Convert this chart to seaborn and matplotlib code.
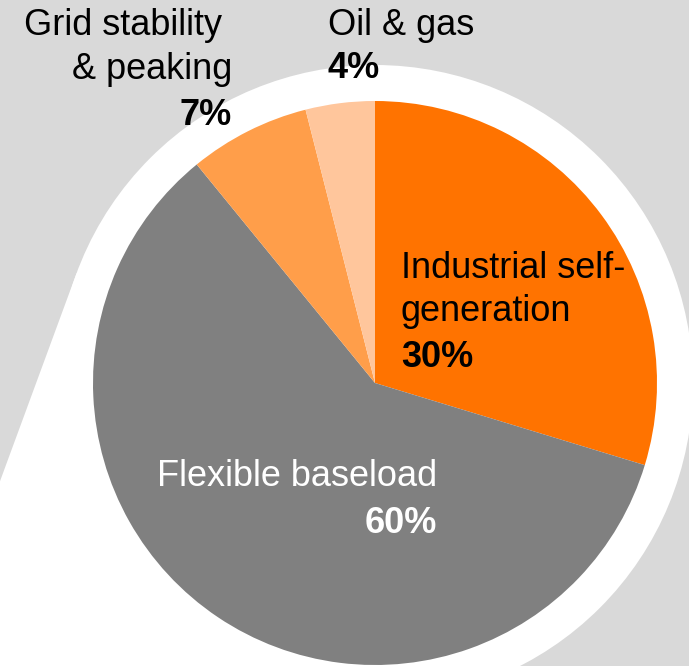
import matplotlib
matplotlib.use("Agg")
import matplotlib.pyplot as plt
import numpy as np
import seaborn as sns
from matplotlib.patches import Circle, Polygon

# ---- data ----
categories = ["Industrial self-generation", "Flexible baseload",
              "Grid stability & peaking", "Oil & gas"]
values = [30, 60, 7, 4]
pct_labels = ["30%", "60%", "7%", "4%"]
colors = ["#FF7300", "#808080", "#FF9E4A", "#FFC69C"]

sns.set_theme(style="white")
plt.rcParams["font.family"] = ["Liberation Sans", "DejaVu Sans"]

W, H = 689, 666
BG = "#D9D9D9"
fig = plt.figure(figsize=(W / 100, H / 100), dpi=100, facecolor=BG)
ax = fig.add_axes([0, 0, 1, 1])
ax.set_facecolor(BG)

def Y(y):
    return H - y

cx, cy, r = 375, Y(383), 282
R_out = 318

# white callout shape behind the pie: circle plus a tangent tail to lower left
ax.add_patch(Circle((cx, cy), R_out, facecolor="white", edgecolor="none", zorder=0))
tail_dir = np.array([-0.368, -1.0])          # going down-left (in up-positive coords)
tail_dir /= np.linalg.norm(tail_dir)
normal = np.array([-tail_dir[1], tail_dir[0]])  # pointing away from centre side
if normal[0] > 0:
    normal = -normal
T = np.array([cx, cy]) + R_out * normal
far = T + 1200 * tail_dir
ax.add_patch(Polygon([tuple(T), (cx, cy), (cx + 60, -300), tuple(far)],
                     closed=True, facecolor="white", edgecolor="none", zorder=0))

ax.pie(values, colors=colors, startangle=90, counterclock=False,
       center=(cx, cy), radius=r, frame=True,
       wedgeprops=dict(linewidth=0, edgecolor="none"))

ax.set_xlim(0, W)
ax.set_ylim(0, H)
ax.set_aspect("equal")
ax.axis("off")

fs = 26
# Grid stability & peaking
ax.text(222, Y(35), "Grid stability", ha="right", va="baseline", fontsize=fs, color="black")
ax.text(232, Y(79), "& peaking", ha="right", va="baseline", fontsize=fs, color="black")
ax.text(232, Y(125), pct_labels[2], ha="right", va="baseline", fontsize=fs,
        fontweight="bold", color="black")
# Oil & gas
ax.text(328, Y(35), categories[3], ha="left", va="baseline", fontsize=fs, color="black")
ax.text(328, Y(78), pct_labels[3], ha="left", va="baseline", fontsize=fs,
        fontweight="bold", color="black")
# Industrial self-generation
ax.text(401, Y(278), "Industrial self-", ha="left", va="baseline", fontsize=fs, color="black")
ax.text(401, Y(321), "generation", ha="left", va="baseline", fontsize=fs, color="black")
ax.text(401, Y(367), pct_labels[0], ha="left", va="baseline", fontsize=fs,
        fontweight="bold", color="black")
# Flexible baseload
ax.text(437, Y(486), categories[1], ha="right", va="baseline", fontsize=fs, color="white")
ax.text(437, Y(533), pct_labels[1], ha="right", va="baseline", fontsize=fs,
        fontweight="bold", color="white")

fig.savefig("out.png", dpi=100, facecolor=BG)
